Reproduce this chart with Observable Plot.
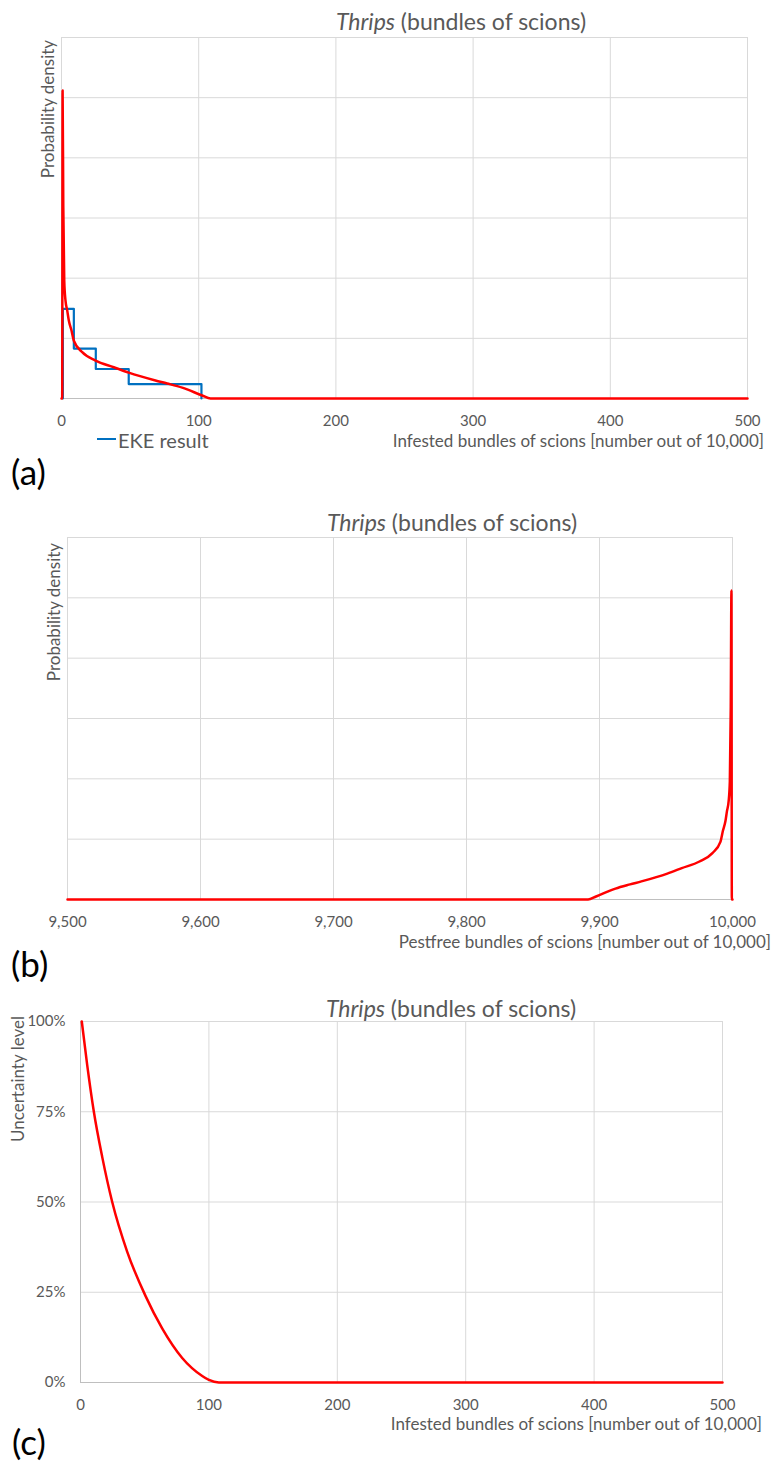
<!DOCTYPE html>
<html>
<head>
<meta charset="utf-8">
<script src="https://cdn.jsdelivr.net/npm/d3@7"></script>
<script src="https://cdn.jsdelivr.net/npm/@observablehq/plot@0.6"></script>
<style>
  html, body { margin: 0; padding: 0; background: #fff; }
  #root { position: relative; width: 775px; height: 1465px; font-family: Lato, "Open Sans", sans-serif; color: #595959; overflow: hidden; }
  .panel { position: absolute; left: 0; }
  .t { position: absolute; white-space: nowrap; line-height: 1; }
</style>
</head>
<body>
<div id="root"></div>
<script>
// ---------- DATA ----------
const titleItalic = "Thrips";
const titleRest = " (bundles of scions)";
const xLabelInfested = "Infested bundles of scions [number out of 10,000]";
const xLabelPestfree = "Pestfree bundles of scions [number out of 10,000]";
const yLabelDensity = "Probability density";
const yLabelUncertainty = "Uncertainty level";
const legendLabel = "EKE result";
const panelLetters = ["(a)", "(b)", "(c)"];

// fitted density (panel a), x = infested bundles out of 10,000
const densX = [0, 0.5, 0.8, 1.3, 2.0, 2.9, 4.2, 5.3, 7.3, 9.0, 15.1, 24.8, 38.1, 49, 68.5, 77, 88, 102.6, 108.6, 500];
const densY = [0, 0, 5.12, 3.2, 1.96, 1.63, 1.46, 1.30, 1.13, 0.96, 0.77, 0.63, 0.52, 0.43, 0.30, 0.25, 0.18, 0.05, 0, 0];

// EKE result histogram (panel a)
const binEdges = [1, 9, 25, 49, 102];
const binHeights = [1.49, 0.83, 0.49, 0.24];

// uncertainty (exceedance) curve (panel c)
const cdfX = [1, 5.2, 10.4, 16.9, 24.7, 36.4, 50.6, 63.6, 79.2, 94.8, 100, 107.7, 500];
const cdfY = [1.0, 0.88, 0.75, 0.625, 0.50, 0.362, 0.24, 0.15, 0.068, 0.018, 0.007, 0, 0];

// ticks
const xTicksInfested = [0, 100, 200, 300, 400, 500];
const xTicksPestfree = [9500, 9600, 9700, 9800, 9900, 10000];
const yGridDensity = [0, 1, 2, 3, 4, 5, 6];
const yTicksUncertainty = [0, 0.25, 0.5, 0.75, 1];
const totalUnits = 10000;

// ---------- BUILD ----------
const root = document.getElementById("root");
const GRID = "#d9d9d9", AXIS = "#bfbfbf", RED = "#ff0000", BLUE = "#0070c0";
const baseStyle = {fontFamily: "Lato, 'Open Sans', sans-serif", fontSize: "15px", color: "#595959", background: "transparent", overflow: "visible"};

const dens = densX.map((x, i) => ({x, y: densY[i]}));
const densMirror = densX.map((x, i) => ({x: totalUnits - x, y: densY[i]})).reverse();
const hist = [];
hist.push({x: binEdges[0], y: 0});
binHeights.forEach((h, i) => { hist.push({x: binEdges[i], y: h}); hist.push({x: binEdges[i + 1], y: h}); });
hist.push({x: binEdges[binEdges.length - 1], y: 0});
const cdf = cdfX.map((x, i) => ({x, y: cdfY[i]}));

function place(el, top) {
  el.classList.add("panel");
  el.style.top = top + "px";
  root.appendChild(el);
}
function txt(html, x, y, opts = {}) {
  const d = document.createElement("div");
  d.className = "t";
  d.innerHTML = html;
  d.style.left = x + "px";
  d.style.top = y + "px";
  d.style.fontSize = (opts.size || 17) + "px";
  if (opts.color) d.style.color = opts.color;
  const ax = opts.anchor === "end" ? "-100%" : opts.anchor === "middle" ? "-50%" : "0";
  d.style.transform = `translate(${ax}, -50%)` + (opts.rotate ? ` rotate(${opts.rotate}deg)` : "");
  if (opts.rotate) d.style.transformOrigin = "50% 50%";
  root.appendChild(d);
  return d;
}

// Panel (a)
const pa = Plot.plot({
  width: 775, height: 430,
  marginLeft: 61, marginRight: 28, marginTop: 37, marginBottom: 32,
  style: baseStyle,
  x: {domain: [0, 500]},
  y: {domain: [0, 6], axis: null},
  marks: [
    Plot.ruleY(yGridDensity, {stroke: GRID, strokeWidth: 1}),
    Plot.ruleX(xTicksInfested, {stroke: GRID, strokeWidth: 1}),
    Plot.ruleY([0], {stroke: AXIS, strokeWidth: 1}),
    Plot.axisX(xTicksInfested, {tickSize: 0, tickPadding: 17, label: null, fill: "#595959"}),
    Plot.line(hist, {x: "x", y: "y", stroke: BLUE, strokeWidth: 2.2}),
    Plot.line(dens, {x: "x", y: "y", stroke: RED, strokeWidth: 2.5, strokeLinejoin: "round", curve: "monotone-x"})
  ]
});
place(pa, 0);

// Panel (b)
const pb = Plot.plot({
  width: 775, height: 430,
  marginLeft: 67, marginRight: 43, marginTop: 37, marginBottom: 31,
  style: baseStyle,
  x: {domain: [9500, 10000]},
  y: {domain: [0, 6], axis: null},
  marks: [
    Plot.ruleY(yGridDensity, {stroke: GRID, strokeWidth: 1}),
    Plot.ruleX(xTicksPestfree, {stroke: GRID, strokeWidth: 1}),
    Plot.ruleY([0], {stroke: AXIS, strokeWidth: 1}),
    Plot.axisX(xTicksPestfree, {tickSize: 0, tickPadding: 17, label: null, fill: "#595959", tickFormat: d3.format(",")}),
    Plot.line(densMirror, {x: "x", y: "y", stroke: RED, strokeWidth: 2.5, strokeLinejoin: "round", curve: "monotone-x"})
  ]
});
place(pb, 500);

// Panel (c)
const pc = Plot.plot({
  width: 775, height: 422,
  marginLeft: 80, marginRight: 53, marginTop: 31, marginBottom: 30,
  style: baseStyle,
  x: {domain: [0, 500]},
  y: {domain: [0, 1]},
  marks: [
    Plot.ruleY(yTicksUncertainty, {stroke: GRID, strokeWidth: 1}),
    Plot.ruleX(xTicksInfested, {stroke: GRID, strokeWidth: 1}),
    Plot.ruleY([0], {stroke: AXIS, strokeWidth: 1}),
    Plot.ruleX([0], {stroke: AXIS, strokeWidth: 1}),
    Plot.axisX(xTicksInfested, {tickSize: 0, tickPadding: 17, label: null, fill: "#595959"}),
    Plot.axisY(yTicksUncertainty, {tickSize: 0, tickPadding: 15, label: null, fill: "#595959", tickFormat: d3.format(".0%")}),
    Plot.line(cdf, {x: "x", y: "y", stroke: RED, strokeWidth: 2.5, strokeLinejoin: "round", curve: "monotone-x"})
  ]
});
place(pc, 990);

// Titles
const titleHTML = `<i>${titleItalic}</i>${titleRest}`;
txt(titleHTML, 461, 21, {size: 23, anchor: "middle"});
txt(titleHTML, 452, 522, {size: 23, anchor: "middle"});
txt(titleHTML, 451, 1008, {size: 23, anchor: "middle"});

// Y labels (rotated)
txt(yLabelDensity, 47, 109, {size: 17, anchor: "middle", rotate: -90});
txt(yLabelDensity, 53, 612, {size: 17, anchor: "middle", rotate: -90});
txt(yLabelUncertainty, 17, 1079, {size: 17, anchor: "middle", rotate: -90});

// X labels
txt(xLabelInfested, 764, 440, {size: 17, anchor: "end"});
txt(xLabelPestfree, 771, 941, {size: 17, anchor: "end"});
txt(xLabelInfested, 762, 1423, {size: 17, anchor: "end"});

// Legend (panel a)
const lg = document.createElement("div");
lg.style.cssText = `position:absolute;left:97px;top:438px;width:19px;height:0;border-top:2.5px solid ${BLUE};`;
root.appendChild(lg);
txt(legendLabel, 118, 440, {size: 20});

// Panel letters
txt(panelLetters[0], 11, 471, {size: 35, color: "#000"});
txt(panelLetters[1], 11, 963, {size: 35, color: "#000"});
txt(panelLetters[2], 12, 1441, {size: 35, color: "#000"});
</script>
</body>
</html>
